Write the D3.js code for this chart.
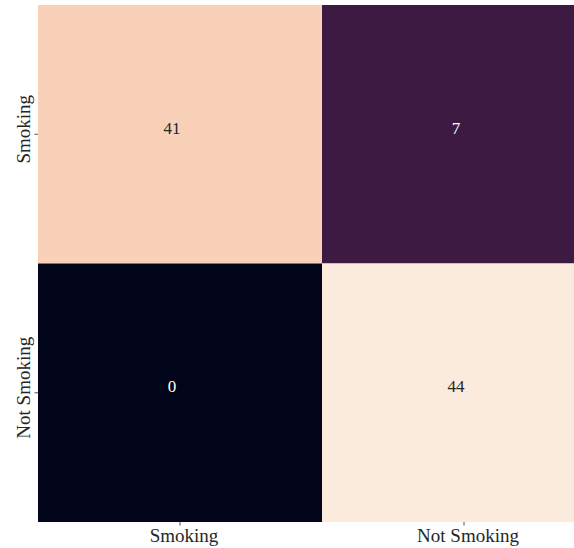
<!DOCTYPE html>
<html>
<head>
<meta charset="utf-8">
<script src="https://cdn.jsdelivr.net/npm/d3@7"></script>
<style>
  html, body { margin: 0; padding: 0; background: #ffffff; }
  svg { display: block; }
</style>
</head>
<body>
<svg id="chart" width="574" height="548"></svg>
<script>
// Confusion matrix: rows = actual, columns = predicted
const categories = ["Smoking", "Not Smoking"];
const counts = [
  [41, 7],
  [0, 44]
];

// "rocket" colormap stops, evenly spaced from 0 to 1
const rocketStops = [
  "#03051a", "#35193e", "#701f57", "#ad1759", "#e13342", "#f37651", "#f6b48f", "#faebdd"
];

const svg = d3.select("#chart");
const margin = { left: 38, top: 5 };
const cellW = 284, cellH = 258.5;

const x = d3.scaleBand().domain(categories)
  .range([margin.left, margin.left + cellW * categories.length]);
const y = d3.scaleBand().domain(categories)
  .range([margin.top, margin.top + cellH * categories.length]);

const cells = [];
counts.forEach((row, i) => row.forEach((v, j) => cells.push({ r: categories[i], c: categories[j], v })));

const vmin = d3.min(cells, d => d.v), vmax = d3.max(cells, d => d.v);
const rocket = d3.scaleLinear()
  .domain(d3.range(rocketStops.length).map(k => k / (rocketStops.length - 1)))
  .range(rocketStops)
  .interpolate(d3.interpolateRgb);
const color = v => rocket((v - vmin) / (vmax - vmin));

svg.append("g").selectAll("rect").data(cells).join("rect")
  .attr("x", d => x(d.c))
  .attr("y", d => y(d.r))
  .attr("width", x.bandwidth())
  .attr("height", y.bandwidth())
  .attr("fill", d => color(d.v));

// cell annotations
svg.append("g").selectAll("text").data(cells).join("text")
  .attr("x", d => x(d.c) + x.bandwidth() / 2 - 8)
  .attr("y", d => y(d.r) + y.bandwidth() / 2 - 6)
  .attr("text-anchor", "middle")
  .attr("dominant-baseline", "central")
  .attr("font-family", "'Liberation Serif', 'Times New Roman', serif")
  .attr("font-size", 17)
  .attr("fill", d => d3.hsl(color(d.v)).l > 0.5 ? "#262626" : "#ffffff")
  .text(d => d.v);

const axisFont = g => g.selectAll("text")
  .attr("font-family", "'Liberation Serif', 'Times New Roman', serif")
  .attr("font-size", 19)
  .attr("fill", "#262626");

// bottom axis
const xAxis = svg.append("g")
  .attr("transform", `translate(0,${margin.top + cellH * categories.length})`)
  .call(d3.axisBottom(x).tickSize(3.5).tickPadding(3));
xAxis.select(".domain").remove();
xAxis.selectAll("line").attr("stroke", "#262626").attr("stroke-width", 0.8);
axisFont(xAxis);
xAxis.selectAll("text").attr("x", 4);

// left axis, labels rotated
const yAxis = svg.append("g")
  .attr("transform", `translate(${margin.left},0)`)
  .call(d3.axisLeft(y).tickSize(3.5).tickPadding(3));
yAxis.select(".domain").remove();
yAxis.selectAll("line").attr("stroke", "#262626").attr("stroke-width", 0.8);
axisFont(yAxis);
yAxis.selectAll("text")
  .attr("transform", "rotate(-90)")
  .attr("x", 5).attr("y", -8.5)
  .attr("dy", 0)
  .attr("text-anchor", "middle");
</script>
</body>
</html>
